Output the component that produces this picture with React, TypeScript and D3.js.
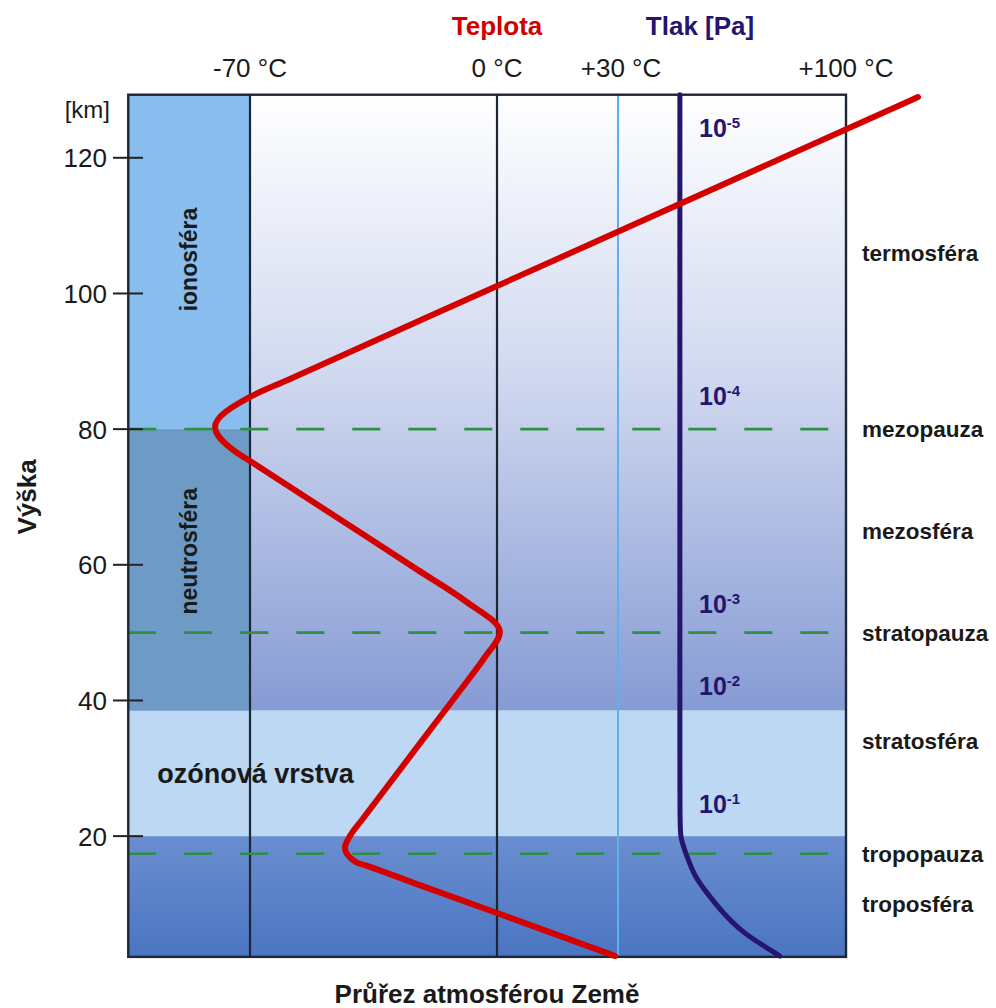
import React from "react";
import * as d3 from "d3";

// ---------- data ----------
const kmTicks = [20, 40, 60, 80, 100, 120];
const tempTicks = [-70, 0, 30, 100];
const tempTickLabels = ["-70 °C", "0 °C", "+30 °C", "+100 °C"];

// temperature profile: altitude (km) and temperature (°C)
const temperatureKm = [2.33, 8.67, 12.66, 15.47, 16.19, 18.25, 20.17, 22.38, 25.33, 40.07, 43.02, 46.41, 50.09, 54.81, 59.25, 75.3, 76.63, 80.32, 84.74, 87.25, 101.1, 128.96];
const temperatureC = [29.3, 0, -21.3, -36.0, -40.0, -43.1, -41.5, -38.3, -34.0, -12.5, -8.2, -3.4, 0.7, -9.4, -22.5, -70, -74.0, -79.9, -70, -59.3, 0, 122.1];

// pressure curve: altitude (km) and horizontal position on the temperature axis
const pressureKm = [2.33, 3.51, 5.72, 8.67, 11.62, 13.99, 16.94, 19.89, 22.5, 129.3];
const pressureX = [79.7, 75.8, 68.4, 62.2, 57.3, 53.6, 51.2, 49.0, 49.0, 49.0];

// pressure labels (10^exp) at altitude
const pressureExp = ["-1", "-2", "-3", "-4", "-5"];
const pressureLabelKm = [23.4, 40.8, 52.9, 83.5, 123.1];

// atmosphere layer names on the right
const layerNames = ["troposféra", "tropopauza", "stratosféra", "stratopauza", "mezosféra", "mezopauza", "termosféra"];
const layerKm = [10, 17.4, 34, 50, 65, 80, 106];

// boundaries drawn as dashed lines (km)
const pauseKm = [17.4, 50, 80];

// vertical bands (km)
const kmBottom = 2.2;
const kmTop = 129.3;
const tropoTopKm = 20;
const ozoneTopKm = 38.5;
const ionoBottomKm = 80;
const xMin = -104.5;

export default function App() {
  const W = 996, H = 1008;
  const x = d3.scaleLinear().domain([-70, 0, 30, 100]).range([250, 497, 618, 846]);
  const y = d3.scaleLinear().domain([0, 120]).range([971.8, 157.8]);

  const left = x(xMin), right = x(100), top = y(kmTop), bottom = y(kmBottom);
  const colRight = x(-70);

  const tempPts: [number, number][] = temperatureKm
    .map((k, i) => [x(temperatureC[i]), y(k)] as [number, number])
    .reverse();
  const presPts: [number, number][] = pressureKm
    .map((k, i) => [x(pressureX[i]), y(k)] as [number, number])
    .reverse();
  const tempLine = d3.line<[number, number]>().curve(d3.curveMonotoneY);
  const presLine = d3.line<[number, number]>().curve(d3.curveBasis);

  const font = "'Liberation Sans', Arial, Helvetica, sans-serif";
  const navy = "#25156e";
  const ink = "#1a1a1a";

  return (
    <svg width={W} height={H} viewBox={`0 0 ${W} ${H}`} style={{ position: "absolute", left: 0, top: 0, background: "#fff" }} fontFamily={font}>
      <defs>
        <linearGradient id="mainGrad" x1="0" y1={top} x2="0" y2={y(ozoneTopKm)} gradientUnits="userSpaceOnUse">
          <stop offset="0" stopColor="#ffffff" />
          <stop offset="0.45" stopColor="#d1d9f0" />
          <stop offset="1" stopColor="#869bd4" />
        </linearGradient>
        <linearGradient id="tropoGrad" x1="0" y1={y(tropoTopKm)} x2="0" y2={bottom} gradientUnits="userSpaceOnUse">
          <stop offset="0" stopColor="#6a8ed0" />
          <stop offset="1" stopColor="#4b75c2" />
        </linearGradient>
      </defs>

      {/* backgrounds */}
      <rect x={left} y={top} width={right - left} height={y(ozoneTopKm) - top} fill="url(#mainGrad)" />
      <rect x={left} y={y(ozoneTopKm)} width={right - left} height={y(tropoTopKm) - y(ozoneTopKm)} fill="#bcd8f2" />
      <rect x={left} y={y(tropoTopKm)} width={right - left} height={bottom - y(tropoTopKm)} fill="url(#tropoGrad)" />
      <rect x={left} y={top} width={colRight - left} height={y(ionoBottomKm) - top} fill="#88bdee" />
      <rect x={left} y={y(ionoBottomKm)} width={colRight - left} height={y(ozoneTopKm) - y(ionoBottomKm)} fill="#6e9bc6" />

      {/* vertical temperature lines */}
      <line x1={x(-70)} x2={x(-70)} y1={top} y2={bottom} stroke="#1d2633" strokeWidth={2.2} />
      <line x1={x(0)} x2={x(0)} y1={top} y2={bottom} stroke="#1d2633" strokeWidth={2.2} />
      <line x1={x(30)} x2={x(30)} y1={top} y2={bottom} stroke="#5db1ec" strokeWidth={2} />

      {/* dashed boundaries */}
      {pauseKm.map((k) => (
        <line key={k} x1={left} x2={right} y1={y(k)} y2={y(k)} stroke="#2f8f44" strokeWidth={2.6} strokeDasharray="28 28" />
      ))}

      {/* frame */}
      <rect x={left} y={top} width={right - left} height={bottom - top} fill="none" stroke="#1d2633" strokeWidth={2.4} />

      {/* y ticks */}
      {kmTicks.map((k) => (
        <g key={k}>
          <line x1={113} x2={143} y1={y(k)} y2={y(k)} stroke="#222" strokeWidth={2} />
          <text x={107} y={y(k) + 9.5} textAnchor="end" fontSize={26} fill={ink}>{k}</text>
        </g>
      ))}
      <text x={110} y={118} textAnchor="end" fontSize={24} fill={ink}>[km]</text>
      <text transform={`translate(36,497) rotate(-90)`} textAnchor="middle" fontSize={26} fontWeight="bold" fill={ink}>Výška</text>

      {/* x tick labels */}
      {tempTicks.map((t, i) => (
        <text key={t} x={x(t) + (t === 30 ? 3 : 0)} y={77} textAnchor="middle" fontSize={26} fill={ink}>{tempTickLabels[i]}</text>
      ))}
      <text x={497} y={35} textAnchor="middle" fontSize={26} fontWeight="bold" fill="#d00000">Teplota</text>
      <text x={700} y={35} textAnchor="middle" fontSize={26} fontWeight="bold" fill={navy}>Tlak [Pa]</text>

      {/* column labels */}
      <text transform={`translate(${(left + colRight) / 2 + 8},${y(105)}) rotate(-90)`} textAnchor="middle" fontSize={23} fontWeight="bold" fill={ink}>ionosféra</text>
      <text transform={`translate(${(left + colRight) / 2 + 8},${y(62)}) rotate(-90)`} textAnchor="middle" fontSize={23} fontWeight="bold" fill={ink}>neutrosféra</text>
      <text x={left + 29} y={y(27.8)} fontSize={27} fontWeight="bold" fill={ink}>ozónová vrstva</text>

      {/* pressure curve */}
      <path d={presLine(presPts) || ""} fill="none" stroke={navy} strokeWidth={5} strokeLinecap="round" />
      {pressureExp.map((e, i) => (
        <text key={e} x={699} y={y(pressureLabelKm[i])} fontSize={25} fontWeight="bold" fill={navy}>
          10<tspan dy={-9} fontSize={15}>{e}</tspan>
        </text>
      ))}

      {/* temperature curve */}
      <path d={tempLine(tempPts) || ""} fill="none" stroke="#d40000" strokeWidth={6} strokeLinejoin="round" strokeLinecap="round" />

      {/* layer names */}
      {layerNames.map((n, i) => (
        <text key={n} x={862} y={y(layerKm[i]) + 8} fontSize={22.5} fontWeight="bold" fill={ink}>{n}</text>
      ))}

      <text x={487} y={1003} textAnchor="middle" fontSize={26} fontWeight="bold" fill={ink}>Průřez atmosférou Země</text>
    </svg>
  );
}
